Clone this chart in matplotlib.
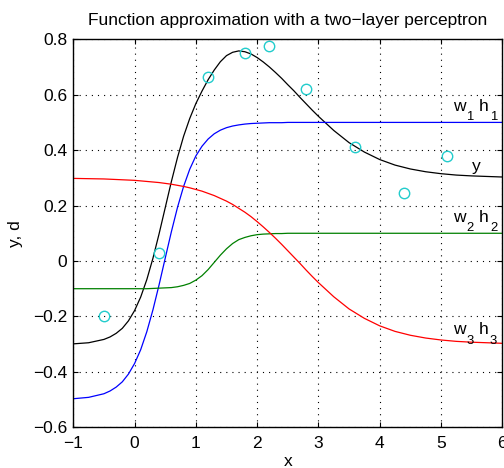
import matplotlib.pyplot as plt
import numpy as np

plt.rcParams['font.family'] = ['Liberation Sans', 'DejaVu Sans']
plt.rcParams['font.size'] = 12.5

# training samples (x, d)
x_train = [-0.5, 0.4, 1.2, 1.8, 2.2, 2.8, 3.6, 4.4, 5.1]
d_train = [-0.2, 0.03, 0.665, 0.75, 0.775, 0.62, 0.41, 0.245, 0.378]

# points
x_curve = [-1.0, -0.75, -0.5, -0.4, -0.3, -0.2, -0.1, 0.0, 0.1, 0.2,
           0.3, 0.4, 0.5, 0.6, 0.7, 0.8, 0.9, 1.0, 1.1, 1.2,
           1.3, 1.4, 1.5, 1.6, 1.7, 1.8, 1.9, 2.0, 2.1, 2.2,
           2.3, 2.4, 2.5, 2.6, 2.7, 2.8, 2.9, 3.0, 3.25, 3.5,
           3.75, 4.0, 4.25, 4.5, 4.75, 5.0, 5.25, 5.5, 5.75, 6.0]
# w1 h1 (blue)
wh1 = [-0.497, -0.492, -0.479, -0.469, -0.455, -0.436, -0.408, -0.370, -0.320, -0.255,
       -0.176, -0.086, 0.010, 0.105, 0.193, 0.269, 0.331, 0.379, 0.414, 0.440,
       0.459, 0.472, 0.481, 0.487, 0.491, 0.494, 0.496, 0.497, 0.498, 0.499,
       0.499, 0.499, 0.500, 0.500, 0.500, 0.500, 0.500, 0.500, 0.500, 0.500,
       0.500, 0.500, 0.500, 0.500, 0.500, 0.500, 0.500, 0.500, 0.500, 0.500]
# w2 h2 (green)
wh2 = [-0.100, -0.100, -0.100, -0.100, -0.100, -0.100, -0.100, -0.100, -0.100, -0.100,
       -0.099, -0.098, -0.097, -0.096, -0.093, -0.088, -0.081, -0.069, -0.053, -0.031,
       -0.005, 0.021, 0.044, 0.063, 0.077, 0.085, 0.091, 0.095, 0.097, 0.098,
       0.099, 0.099, 0.100, 0.100, 0.100, 0.100, 0.100, 0.100, 0.100, 0.100,
       0.100, 0.100, 0.100, 0.100, 0.100, 0.100, 0.100, 0.100, 0.100, 0.100]
# w3 h3 (red)
wh3 = [0.298, 0.297, 0.296, 0.295, 0.294, 0.293, 0.292, 0.291, 0.289, 0.287,
       0.285, 0.283, 0.280, 0.277, 0.273, 0.269, 0.264, 0.258, 0.252, 0.244,
       0.236, 0.226, 0.216, 0.204, 0.190, 0.176, 0.160, 0.142, 0.123, 0.103,
       0.082, 0.060, 0.037, 0.014, -0.009, -0.033, -0.056, -0.078, -0.129, -0.173,
       -0.207, -0.234, -0.254, -0.268, -0.278, -0.285, -0.290, -0.293, -0.295, -0.297]
# network output y (black)
y_net = [-0.299, -0.295, -0.283, -0.274, -0.261, -0.243, -0.216, -0.179, -0.130, -0.067,
         0.010, 0.098, 0.192, 0.286, 0.373, 0.450, 0.514, 0.568, 0.613, 0.654,
         0.689, 0.719, 0.741, 0.753, 0.758, 0.755, 0.747, 0.734, 0.718, 0.700,
         0.680, 0.659, 0.636, 0.614, 0.590, 0.567, 0.544, 0.522, 0.471, 0.427,
         0.393, 0.366, 0.346, 0.332, 0.322, 0.315, 0.310, 0.307, 0.305, 0.303]


def wh_label(ax, x, y, k):
    # matlab style 'w_k h_k': big, deep subscripts
    kw = dict(xy=(x, y), textcoords='offset points', va='baseline', ha='left')
    ax.annotate('w', xytext=(0, 0), **kw)
    ax.annotate(k, xytext=(9.4, -6.8), fontsize=9.4, **kw)
    ax.annotate('h', xytext=(18.5, 0), **kw)
    ax.annotate(k, xytext=(26.4, -6.8), fontsize=9.4, **kw)


fig = plt.figure(figsize=(5.04, 4.68), dpi=100)
ax = fig.add_axes([0.1454, 0.087, 0.8512, 0.8291])

ax.plot(x_curve, y_net, color='k', lw=0.9)
ax.plot(x_curve, wh1, color='#0000ff', lw=0.9)
ax.plot(x_curve, wh2, color='#008000', lw=0.9)
ax.plot(x_curve, wh3, color='#ff0000', lw=0.9)
ax.plot(x_train, d_train, 'o', mfc='none', mec='#22cccc', ms=7.5, mew=1.0)

wh_label(ax, 5.2, 0.542, '1')
ax.text(5.5, 0.325, 'y')
wh_label(ax, 5.2, 0.141, '2')
wh_label(ax, 5.2, -0.265, '3')

ax.set_xlim(-1, 6)
ax.set_ylim(-0.6, 0.8)
ax.set_xticks(np.arange(-1, 7, 1))
ax.set_yticks(np.arange(-0.6, 0.81, 0.2))
ax.set_yticklabels(['\u22120.6', '\u22120.4', '\u22120.2', '0', '0.2', '0.4', '0.6', '0.8'])
ax.set_xticklabels(['\u22121', '0', '1', '2', '3', '4', '5', '6'])
ax.grid(True, color='k', linestyle=(0, (1, 4.5)), lw=0.8)
ax.tick_params(direction='in', top=True, right=True, length=3.5, width=0.8)
ax.tick_params(axis='x', pad=6.5)
ax.tick_params(axis='y', pad=4.5)
for s in ax.spines.values():
    s.set_linewidth(1.0)

ax.set_title('Function approximation with a two\u2212layer perceptron', pad=10, fontsize=12.5)
ax.set_xlabel('x', labelpad=2)
ax.set_ylabel('y, d', labelpad=7)

plt.savefig('out.png')
